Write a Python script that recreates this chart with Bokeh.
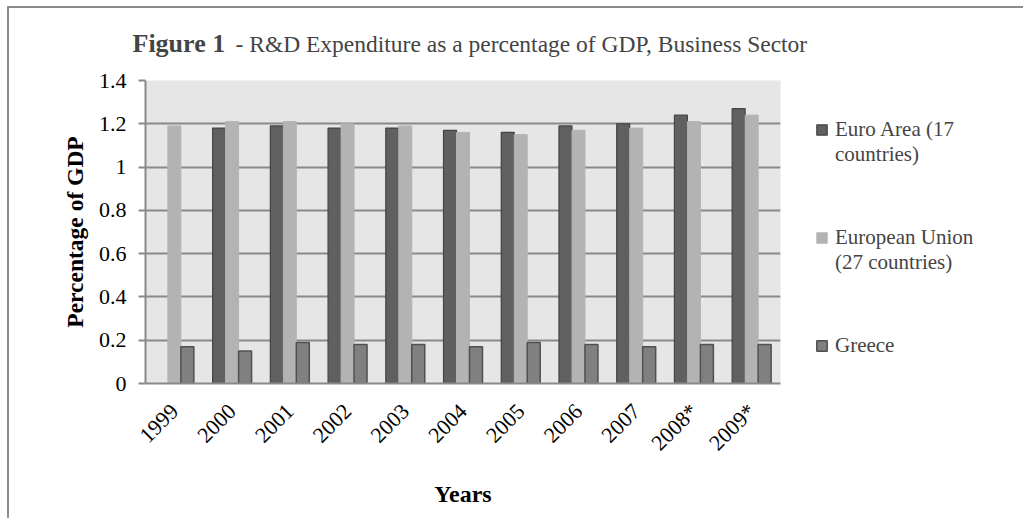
import math
from bokeh.plotting import figure
from bokeh.models import (ColumnDataSource, FactorRange, Range1d, FixedTicker, Legend,
                          LegendItem, Label)
from bokeh.transform import dodge
from bokeh.embed import file_html
from bokeh.resources import INLINE

years = ["1999", "2000", "2001", "2002", "2003", "2004", "2005", "2006", "2007", "2008*", "2009*"]
euro_area = [float("nan"), 1.18, 1.19, 1.18, 1.18, 1.17, 1.16, 1.19, 1.20, 1.24, 1.27]
european_union = [1.19, 1.21, 1.21, 1.20, 1.19, 1.16, 1.15, 1.17, 1.18, 1.21, 1.24]
greece = [0.17, 0.15, 0.19, 0.18, 0.18, 0.17, 0.19, 0.18, 0.17, 0.18, 0.18]
y_ticks = [0, 0.2, 0.4, 0.6, 0.8, 1.0, 1.2, 1.4]
y_tick_labels = ["0", "0.2", "0.4", "0.6", "0.8", "1", "1.2", "1.4"]
# blank lines keep each legend square level with the first text line
series_names = ["\nEuro Area (17\ncountries)", "\nEuropean Union\n(27 countries)", "\nGreece\n\u00a0"]

FONT = "Liberation Serif"

src = ColumnDataSource(dict(years=years, euro=euro_area, eu=european_union, gr=greece))

p = figure(frame_width=635, frame_height=303, x_range=FactorRange(*years), y_range=Range1d(0, 1.4),
           output_backend="svg", toolbar_location=None,
           min_border_left=145, min_border_right=243, min_border_top=80, min_border_bottom=135)
p.background_fill_color = "#e6e6e6"
p.border_fill_color = None
p.outline_line_color = None
p.styles = {
    "background-color": "white",
    "background-image": "linear-gradient(#8c8c8c, #8c8c8c), linear-gradient(#8c8c8c, #8c8c8c)",
    "background-position": "7px 6px, 7px 6px",
    "background-size": "2px 100%, 100% 2px",
    "background-repeat": "no-repeat, no-repeat",
}

bw = 0.225
r_euro = p.vbar(x=dodge("years", -0.225, range=p.x_range), top="euro", width=bw, source=src,
                fill_color="#606060", line_color="#444444", line_width=1.2)
r_eu = p.vbar(x=dodge("years", 0.0, range=p.x_range), top="eu", width=bw, source=src,
              fill_color="#b3b3b3", line_color="#b3b3b3", line_width=1)
r_gr = p.vbar(x=dodge("years", 0.225, range=p.x_range), top="gr", width=bw, source=src,
              fill_color="#808080", line_color="#505050", line_width=1.5)

# grid
p.xgrid.grid_line_color = None
p.ygrid.grid_line_color = "#898989"
p.ygrid.grid_line_width = 2
p.ygrid.ticker = FixedTicker(ticks=y_ticks)

# y axis
p.yaxis.ticker = FixedTicker(ticks=y_ticks)
p.yaxis.major_label_overrides = {t: l for t, l in zip(y_ticks, y_tick_labels)}
p.yaxis.axis_line_color = "#898989"
p.yaxis.axis_line_width = 2
p.yaxis.major_tick_line_color = "#898989"
p.yaxis.major_tick_line_width = 2
p.yaxis.major_tick_out = 7
p.yaxis.major_tick_in = 0
p.yaxis.minor_tick_line_color = None
p.yaxis.major_label_standoff = 12
p.yaxis.major_label_text_font = FONT
p.yaxis.major_label_text_font_size = "22px"
p.yaxis.major_label_text_color = "black"
p.yaxis.axis_label = "Percentage of GDP"
p.yaxis.axis_label_text_font = FONT
p.yaxis.axis_label_text_font_style = "bold"
p.yaxis.axis_label_text_font_size = "23.5px"
p.yaxis.axis_label_text_color = "black"
p.yaxis.axis_label_standoff = 8

# x axis
p.xaxis.axis_line_color = "#898989"
p.xaxis.axis_line_width = 2
p.xaxis.major_tick_line_color = None
p.xaxis.major_tick_out = 0
p.xaxis.major_tick_in = 0
p.xaxis.major_label_orientation = math.pi / 4
p.xaxis.major_label_standoff = 24
p.xaxis.major_label_text_font = FONT
p.xaxis.major_label_text_font_size = "22px"
p.xaxis.major_label_text_color = "black"
p.xaxis.axis_label = "Years"
p.xaxis.axis_label_text_font = FONT
p.xaxis.axis_label_text_font_style = "bold"
p.xaxis.axis_label_text_font_size = "24px"
p.xaxis.axis_label_text_color = "black"
p.xaxis.axis_label_standoff = 14

# title, in the panels above the plot area
p.add_layout(Label(x=132 - 145, y=37, x_units="screen", y_units="screen",
                   text="Figure 1", text_font=FONT, text_font_style="bold",
                   text_font_size="26px", text_baseline="middle", text_align="left"), "above")
p.add_layout(Label(x=235 - 145, y=8, x_units="screen", y_units="screen",
                   text="- R&D Expenditure as a percentage of GDP, Business Sector",
                   text_font=FONT, text_font_size="23.5px",
                   text_baseline="middle", text_align="left"), "above")

# legend on the right
items = [LegendItem(label=n, renderers=[r]) for n, r in zip(series_names, [r_euro, r_eu, r_gr])]
lg = Legend(items=items, location=(35, 0),
            glyph_width=13, glyph_height=13, label_standoff=7,
            label_text_font=FONT, label_text_font_size="21px",
            padding=0, margin=0, spacing=33,
            border_line_color=None, background_fill_alpha=0)
p.add_layout(lg, "right")

open("out.html", "w").write(file_html(p, INLINE))
